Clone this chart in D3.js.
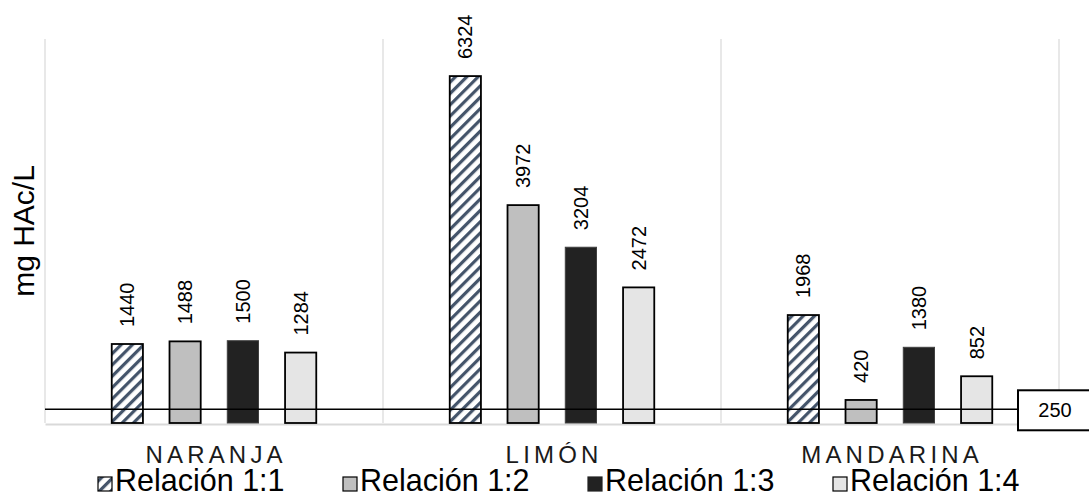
<!DOCTYPE html>
<html>
<head>
<meta charset="utf-8">
<script src="https://cdn.jsdelivr.net/npm/d3@7"></script>
<style>
  html, body { margin: 0; padding: 0; background: #ffffff; }
  svg { display: block; font-family: "Liberation Sans", Arial, sans-serif; }
</style>
</head>
<body>
<svg id="chart" width="1089" height="497"></svg>
<script>
// Acidez (mg HAc/L) por fruta y relación
const categories = ["NARANJA", "LIMÓN", "MANDARINA"];
const seriesNames = ["Relación 1:1", "Relación 1:2", "Relación 1:3", "Relación 1:4"];
const rel11 = [1440, 6324, 1968];
const rel12 = [1488, 3972, 420];
const rel13 = [1500, 3204, 1380];
const rel14 = [1284, 2472, 852];
const referenceValue = 250;
const yTitle = "mg HAc/L";

const seriesValues = [rel11, rel12, rel13, rel14];
const fills = ["url(#hatch)", "#bfbfbf", "#222222", "#e5e5e5"];
const strokes = ["#000000", "#000000", "#404040", "#000000"];
const strokeW = [1.8, 1.8, 1, 1.8];

const svg = d3.select("#chart");

// hatch pattern for the first series
const defs = svg.append("defs");
const pat = defs.append("pattern")
  .attr("id", "hatch")
  .attr("patternUnits", "userSpaceOnUse")
  .attr("width", 8).attr("height", 8)
  .attr("patternTransform", "rotate(45)");
pat.append("rect").attr("width", 8).attr("height", 8).attr("fill", "#ffffff");
pat.append("rect").attr("x", 0).attr("y", 0).attr("width", 3.2).attr("height", 8).attr("fill", "#44546a");

const plot = { left: 45, right: 1059, top: 39, bottom: 423 };

const x0 = d3.scaleBand().domain(categories).range([plot.left, plot.right]).padding(0);
const x1 = d3.scaleBand().domain(seriesNames).range([0, x0.bandwidth()])
  .paddingInner(0.46).paddingOuter(1.155);
const y = d3.scaleLinear().domain([0, 7000]).range([plot.bottom, plot.top]);

// vertical category separators
const seps = [plot.left, ...categories.map(c => x0(c) + x0.bandwidth())];
svg.append("g").selectAll("line").data(seps).join("line")
  .attr("x1", d => d).attr("x2", d => d)
  .attr("y1", plot.top).attr("y2", plot.bottom)
  .attr("stroke", "#d9d9d9").attr("stroke-width", 1.2);

// category axis
const xAxis = svg.append("g").attr("transform", `translate(0,${plot.bottom + 1})`)
  .call(d3.axisBottom(x0).tickSize(0).tickPadding(22));
xAxis.select(".domain").attr("stroke", "#d9d9d9").attr("stroke-width", 2);
xAxis.selectAll("text")
  .attr("font-size", 24)
  .attr("fill", "#1a1a1a")
  .attr("font-family", "'Liberation Sans', Arial, sans-serif")
  .style("letter-spacing", "4.2px")
  .attr("dx", "2.1px");

// bars
const groups = svg.append("g").selectAll("g").data(categories).join("g")
  .attr("transform", c => `translate(${x0(c)},0)`);

groups.each(function(c, ci) {
  const g = d3.select(this);
  seriesNames.forEach((s, si) => {
    const v = seriesValues[si][ci];
    g.append("rect")
      .attr("x", x1(s))
      .attr("y", y(v))
      .attr("width", x1.bandwidth())
      .attr("height", y(0) - y(v))
      .attr("fill", fills[si])
      .attr("stroke", strokes[si])
      .attr("stroke-width", strokeW[si]);
    const cx = x1(s) + x1.bandwidth() / 2;
    g.append("text")
      .attr("transform", `translate(${cx},${y(v) - 17}) rotate(-90)`)
      .attr("dy", "0.35em")
      .attr("text-anchor", "start")
      .attr("font-size", 20)
      .attr("fill", "#000")
      .text(v);
  });
});

// reference line
const boxX = 1018;
svg.append("line")
  .attr("x1", plot.left).attr("x2", boxX)
  .attr("y1", y(referenceValue)).attr("y2", y(referenceValue))
  .attr("stroke", "#000").attr("stroke-width", 1.5);

svg.append("rect")
  .attr("x", boxX).attr("y", y(referenceValue) - 19)
  .attr("width", 80).attr("height", 40)
  .attr("fill", "#fff").attr("stroke", "#000").attr("stroke-width", 2);
svg.append("text")
  .attr("x", 1055).attr("y", y(referenceValue) + 8)
  .attr("text-anchor", "middle")
  .attr("font-size", 20)
  .text(referenceValue);

// y title
svg.append("text")
  .attr("transform", `translate(34,${(plot.top + plot.bottom) / 2}) rotate(-90)`)
  .attr("text-anchor", "middle")
  .attr("font-size", 30)
  .attr("fill", "#000")
  .text(yTitle);

// legend
const legend = svg.append("g");
seriesNames.forEach((s, i) => {
  const lx = 98 + i * 245;
  legend.append("rect")
    .attr("x", lx).attr("y", 477).attr("width", 14).attr("height", 14)
    .attr("fill", fills[i]).attr("stroke", strokes[i] === "#404040" ? "#222" : "#000")
    .attr("stroke-width", 1.2);
  legend.append("text")
    .attr("x", lx + 17).attr("y", 491)
    .attr("font-size", 30.5)
    .attr("fill", "#000")
    .text(s);
});
</script>
</body>
</html>
